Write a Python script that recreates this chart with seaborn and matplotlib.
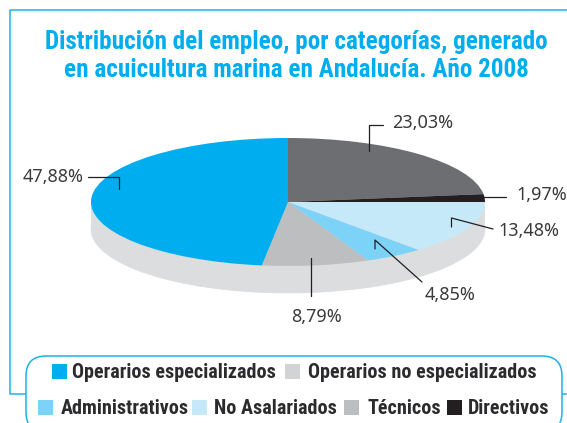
import seaborn as sns
import matplotlib.pyplot as plt
from matplotlib.patches import FancyBboxPatch, Rectangle

# datos del grafico
categorias = ["Operarios no especializados", "Directivos", "No Asalariados",
              "Administrativos", "Técnicos", "Operarios especializados"]
valores = [23.03, 1.97, 13.48, 4.85, 8.79, 47.88]
etiquetas = ["23,03%", "1,97%", "13,48%", "4,85%", "8,79%", "47,88%"]
colores = ["#6d6e71", "#231f20", "#c6e9fa", "#7cd2f7", "#bcbec0", "#00aeef"]

leyenda_fila1 = ["Operarios especializados", "Operarios no especializados"]
leyenda_fila2 = ["Administrativos", "No Asalariados", "Técnicos", "Directivos"]
colores_leyenda = {"Operarios especializados": "#00aeef",
                   "Operarios no especializados": "#d1d3d4",
                   "Administrativos": "#7cd2f7",
                   "No Asalariados": "#c6e9fa",
                   "Técnicos": "#bcbec0",
                   "Directivos": "#231f20"}

sns.set_theme(style="white")
plt.rcParams['font.family'] = ['Noto Sans', 'DejaVu Sans']

W, H = 567, 423
AZUL = "#1fb0e8"
fig = plt.figure(figsize=(W / 100, H / 100), dpi=100)

# capa de fondo en pixeles
bg = fig.add_axes([0, 0, 1, 1])
bg.set_xlim(0, W)
bg.set_ylim(H, 0)
bg.axis("off")
bg.plot([567, 9.5, 9.5, 567], [10, 10, 394, 394], color=AZUL, lw=1.1)

# tarta achatada: radio 197 px en x, 64 px en y, centro (288, 202)
cx, cy, rx, ry, prof = 288, 202, 197, 64, 27
ax = fig.add_axes([(cx - rx) / W, 1 - (cy + ry + prof) / H, 2 * rx / W, (2 * ry + prof) / H])
sombra = "#dcddde"
sin_borde = {"linewidth": 0, "edgecolor": "none"}
ax.pie(valores, colors=[sombra] * len(valores), startangle=90, counterclock=False,
       center=(0, -prof / ry), radius=1, wedgeprops={"linewidth": 0.5, "edgecolor": sombra})
ax.add_patch(Rectangle((-1, -prof / ry), 2, prof / ry, color=sombra, lw=0))
ax.pie(valores, colors=colores, startangle=90, counterclock=False, center=(0, 0), radius=1,
       wedgeprops=sin_borde)
ax.set_aspect("auto")
ax.set_xlim(-1, 1)
ax.set_ylim(-1 - prof / ry, 1)

# capa de textos
top = fig.add_axes([0, 0, 1, 1])
top.set_xlim(0, W)
top.set_ylim(H, 0)
top.axis("off")
top.patch.set_alpha(0)

fuente_estrecha = ['Roboto Condensed', 'Liberation Sans']
top.text(296.5, 42, "Distribución del empleo, por categorías, generado", ha="center", va="center",
         color="#00aeef", fontsize=18.1, fontweight="bold", family=fuente_estrecha)
top.text(296.5, 70, "en acuicultura marina en Andalucía. Año 2008", ha="center", va="center",
         color="#00aeef", fontsize=18.1, fontweight="bold", family=fuente_estrecha)

# lineas guia y porcentajes
guias = [([382.5, 369, 369], [125.5, 125.5, 151]),
         ([483, 506], [197, 197]),
         ([451.5, 451.5, 493], [227, 218, 229]),
         ([375, 375, 422], [249, 240, 282]),
         ([311, 311], [258, 296]),
         ([88, 119, 119], [177, 177, 189])]
pos_etiquetas = [(392.5, 123.5), (516.5, 194.5), (498, 230.5), (424.5, 295.5), (291.5, 316.5), (22.5, 176.5)]
for (xs, ys), etq, (x, y) in zip(guias, etiquetas, pos_etiquetas):
    top.plot(xs, ys, color="#231f20", lw=0.9)
    top.text(x, y, etq, ha="left", va="center", fontsize=13, fontweight="light", color="#3a3a3c")

# leyenda
caja = FancyBboxPatch((26, 356), 536, 76, boxstyle="round,pad=0,rounding_size=20",
                      fc="white", ec=AZUL, lw=1.1)
top.add_patch(caja)
fila1_x = [(52, 72), (285, 308)]
fila2_x = [(38, 61), (192, 214), (344, 367), (447, 468)]
for nombres, posiciones, y in [(leyenda_fila1, fila1_x, 372), (leyenda_fila2, fila2_x, 408)]:
    for nombre, (xc, xt) in zip(nombres, posiciones):
        top.add_patch(Rectangle((xc, y - 7.5), 15, 15, color=colores_leyenda[nombre], lw=0))
        top.text(xt, y + 1, nombre, ha="left", va="center", fontsize=14.5, fontweight="bold",
                 color="#2b2b2d", family=fuente_estrecha)

fig.savefig("out.png", dpi=100)
